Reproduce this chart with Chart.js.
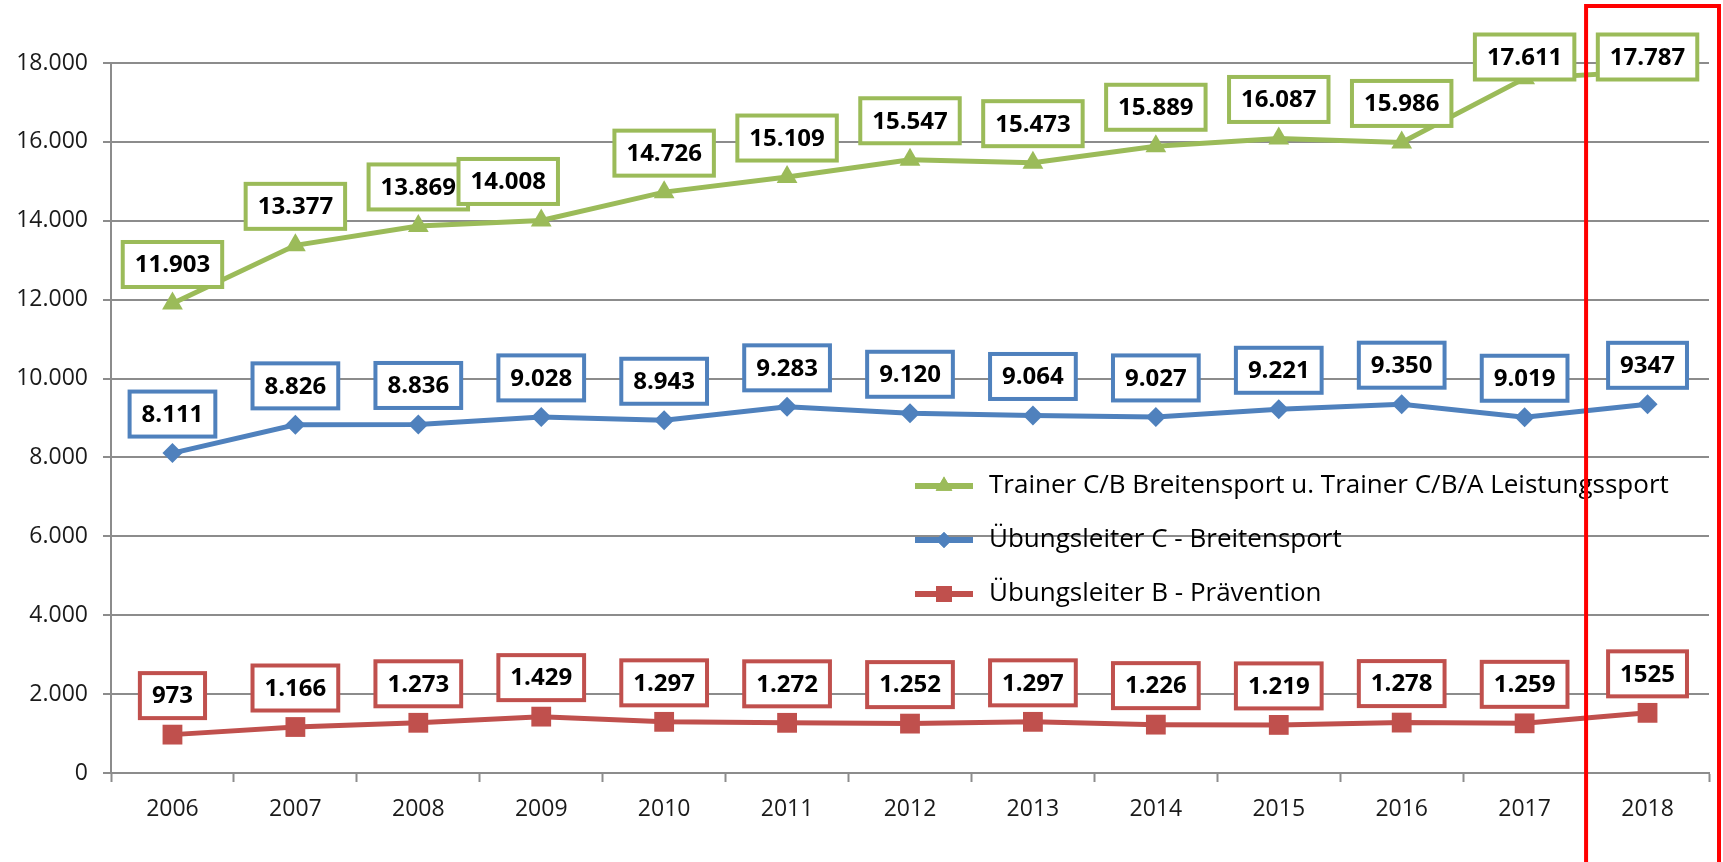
<!DOCTYPE html>
<html>
<head>
<meta charset="utf-8">
<script src="https://cdn.jsdelivr.net/npm/chart.js@4/dist/chart.umd.min.js"></script>
<style>
  body { margin: 0; background: #fff; }
  canvas { display: block; }
</style>
</head>
<body>
<canvas id="chart" width="1723" height="862"></canvas>
<script>
/* --------------------- DATA -------------------- */
const years = ["2006", "2007", "2008", "2009", "2010", "2011", "2012",
  "2013", "2014", "2015", "2016", "2017", "2018"];

const trainerName = "Trainer C/B Breitensport u. Trainer C/B/A Leistungssport";
const trainerVals = [11903, 13377, 13869, 14008, 14726, 15109, 15547,
  15473, 15889, 16087, 15986, 17611, 17787];
const trainerLabels = ["11.903", "13.377", "13.869", "14.008", "14.726", "15.109", "15.547",
  "15.473", "15.889", "16.087", "15.986", "17.611", "17.787"];

const uelCName = "Übungsleiter C - Breitensport";
const uelCVals = [8111, 8826, 8836, 9028, 8943, 9283, 9120,
  9064, 9027, 9221, 9350, 9019, 9347];
const uelCLabels = ["8.111", "8.826", "8.836", "9.028", "8.943", "9.283", "9.120",
  "9.064", "9.027", "9.221", "9.350", "9.019", "9347"];

const uelBName = "Übungsleiter B - Prävention";
const uelBVals = [973, 1166, 1273, 1429, 1297, 1272, 1252,
  1297, 1226, 1219, 1278, 1259, 1525];
const uelBLabels = ["973", "1.166", "1.273", "1.429", "1.297", "1.272", "1.252",
  "1.297", "1.226", "1.219", "1.278", "1.259", "1525"];

/* --------------------- STYLE -------------------- */
const GREEN = "#9BBB59";
const BLUE = "#4F81BD";
const RED = "#C0504D";
const GRID = "#8C8C8C";
const AXIS_FONT = "'Open Sans', sans-serif";

function fmtThousands(v) {
  return String(v).replace(/\B(?=(\d{3})+(?!\d))/g, ".");
}

/* --------------------- PLUGINS -------------------- */
// boxed value labels above every point
const boxLabels = {
  id: "boxLabels",
  afterDatasetsDraw(chart, args, opts) {
    const ctx = chart.ctx;
    ctx.save();
    ctx.font = "bold 24px 'Open Sans', sans-serif";
    ctx.textAlign = "center";
    ctx.textBaseline = "middle";
    chart.data.datasets.forEach((ds, i) => {
      const meta = chart.getDatasetMeta(i);
      meta.data.forEach((pt, j) => {
        const txt = ds.boxLabels[j];
        const w = ctx.measureText(txt).width + 24;
        const h = 45;
        const nudge = (opts.nudge[i] && opts.nudge[i][j]) || 0;
        const cx = pt.x + nudge;
        const cy = Math.max(pt.y - 39, 57);
        ctx.fillStyle = "#fff";
        ctx.fillRect(cx - w / 2, cy - h / 2, w, h);
        ctx.lineWidth = 4;
        ctx.strokeStyle = ds.borderColor;
        ctx.strokeRect(cx - w / 2, cy - h / 2, w, h);
        ctx.fillStyle = "#000";
        ctx.fillText(txt, cx, cy + 1);
      });
    });
    ctx.restore();
  }
};

// legend drawn inside the plot, no background
const innerLegend = {
  id: "innerLegend",
  afterDatasetsDraw(chart, args, opts) {
    const ctx = chart.ctx;
    ctx.save();
    ctx.font = "26px 'Open Sans', sans-serif";
    ctx.textBaseline = "middle";
    chart.data.datasets.forEach((ds, i) => {
      const y = opts.top + i * opts.step;
      ctx.strokeStyle = ds.borderColor;
      ctx.lineWidth = 6;
      ctx.beginPath();
      ctx.moveTo(opts.left, y);
      ctx.lineTo(opts.left + 58, y);
      ctx.stroke();
      ctx.fillStyle = ds.borderColor;
      Chart.helpers.drawPoint(ctx, {
        pointStyle: ds.pointStyle, radius: ds.pointRadius * 0.8, rotation: 0, borderWidth: 0
      }, opts.left + 29, y);
      ctx.fill();
      ctx.fillStyle = "#000";
      ctx.fillText(ds.label, opts.left + 74, y);
    });
    ctx.restore();
  }
};

// red frame round the last year
const redFrame = {
  id: "redFrame",
  afterDraw(chart) {
    const x = chart.scales.x;
    const left = (x.getPixelForValue(11) + x.getPixelForValue(12)) / 2;
    const ctx = chart.ctx;
    ctx.save();
    ctx.strokeStyle = "#FF0000";
    ctx.lineWidth = 4;
    ctx.strokeRect(left, 6, chart.width - 4 - left, chart.height + 10);
    ctx.restore();
  }
};

/* --------------------- CHART -------------------- */
new Chart(document.getElementById("chart"), {
  type: "line",
  data: {
    labels: years,
    datasets: [
      {
        label: trainerName, data: trainerVals, boxLabels: trainerLabels,
        borderColor: GREEN, backgroundColor: GREEN, borderWidth: 5,
        pointStyle: "triangle", pointRadius: 12, pointBorderWidth: 0
      },
      {
        label: uelCName, data: uelCVals, boxLabels: uelCLabels,
        borderColor: BLUE, backgroundColor: BLUE, borderWidth: 5,
        pointStyle: "rectRot", pointRadius: 10, pointBorderWidth: 0
      },
      {
        label: uelBName, data: uelBVals, boxLabels: uelBLabels,
        borderColor: RED, backgroundColor: RED, borderWidth: 5,
        pointStyle: "rect", pointRadius: 14, pointBorderWidth: 0
      }
    ]
  },
  options: {
    responsive: false,
    animation: false,
    devicePixelRatio: 1,
    layout: { padding: { top: 63, right: 12, left: 0, bottom: 0 } },
    plugins: {
      legend: { display: false },
      tooltip: { enabled: false },
      boxLabels: { nudge: { 0: { 3: -33 } } },
      innerLegend: { left: 915, top: 486, step: 54 }
    },
    scales: {
      x: {
        offset: true,
        grid: {
          offset: true, drawOnChartArea: false, drawTicks: true,
          tickLength: 9, tickColor: GRID, tickWidth: 2
        },
        border: { color: GRID, width: 2 },
        ticks: { color: "#1a1a1a", font: { family: AXIS_FONT, size: 23 }, padding: 14 },
        afterFit(s) { s.height = 89; }
      },
      y: {
        min: 0, max: 18000,
        grid: { color: GRID, lineWidth: 2, tickLength: 8, tickColor: GRID },
        border: { color: GRID, width: 2 },
        ticks: {
          stepSize: 2000, color: "#1a1a1a", padding: 15,
          font: { family: AXIS_FONT, size: 23 },
          callback: (v) => fmtThousands(v)
        },
        afterFit(s) { s.width = 111; }
      }
    }
  },
  plugins: [boxLabels, innerLegend, redFrame]
});
</script>
</body>
</html>
